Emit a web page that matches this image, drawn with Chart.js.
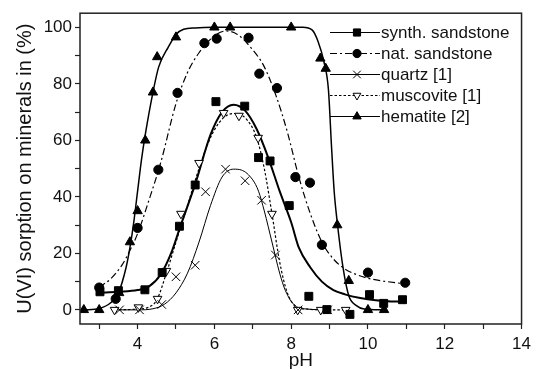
<!DOCTYPE html>
<html>
<head>
<meta charset="utf-8">
<script src="https://cdn.jsdelivr.net/npm/chart.js@4.4.0/dist/chart.umd.min.js"></script>
<style>
  html, body { margin: 0; padding: 0; background: #fff; }
</style>
</head>
<body>
<canvas id="myChart" width="536" height="369"></canvas>
<script>
// measured points
const synthPH = [3.02, 3.5, 4.19, 4.64, 5.09, 5.5, 6.04, 6.79, 7.15, 7.45, 7.95, 8.46, 8.93, 9.53, 10.04, 10.41, 10.9];
const synthU  = [6.4, 6.8, 7.1, 13.2, 29.6, 44.2, 73.7, 72.1, 53.9, 52.7, 36.9, 4.8, 0.1, -1.6, 5.4, 2.3, 3.6];
const natPH = [3.0, 3.43, 4.0, 4.54, 5.04, 5.74, 6.06, 6.89, 7.17, 7.63, 8.11, 8.49, 8.8, 10.0, 10.97];
const natU  = [7.9, 3.9, 29, 49.6, 76.8, 94.4, 96, 96.3, 83.6, 78.5, 47, 45, 23, 13.2, 9.6];
const quartzPH = [3.53, 4.05, 4.63, 5.0, 5.5, 5.77, 6.29, 6.8, 7.23, 7.59, 8.18, 8.95];
const quartzU  = [0, 0, 1.9, 11.7, 15.8, 41.8, 49.8, 45.7, 38.8, 19.4, 0, 0];
const muscPH = [3.4, 4.02, 4.52, 4.75, 5.13, 5.6, 6.24, 6.64, 7.14, 7.5, 8.17, 8.77, 9.42];
const muscU  = [0, 0.9, 3.9, 13.8, 34, 52, 69.7, 68.7, 60.9, 34, 0, 0, 0];
const hemPH = [2.6, 3.0, 3.52, 3.8, 4.0, 4.2, 4.4, 4.51, 5.0, 6.0, 6.41, 8.0, 8.76, 8.9, 9.2, 9.5, 10.0, 10.42];
const hemU  = [0, 0, 6, 24, 35, 60, 77, 89.5, 96.5, 100, 100, 100, 89, 85.4, 30, 10.3, 0, 0];

// fitted curves
const synthFitPH = [3.0, 3.5, 4.0, 4.3, 4.6, 4.9, 5.1, 5.5, 5.9, 6.2, 6.5, 6.8, 7.1, 7.4, 7.7, 8.0, 8.2, 8.5, 8.8, 9.1, 9.4, 9.8, 10.2, 10.6, 10.9];
const synthFitU  = [6.1, 6.4, 7.0, 8.3, 12.5, 21, 29, 44.5, 62, 70, 72.6, 70.5, 64, 54, 42, 31, 22, 15, 10, 7, 5.5, 4.2, 3.4, 3.0, 2.9];
const natFitPH = [3.0, 3.3, 3.6, 3.8, 4.0, 4.3, 4.6, 5.0, 5.3, 5.6, 6.0, 6.3, 6.6, 7.0, 7.3, 7.6, 7.9, 8.2, 8.5, 8.8, 9.1, 9.4, 9.7, 10.0, 10.4, 10.9];
const natFitU  = [8, 11, 16, 21, 27, 39, 52, 73, 84, 91, 97, 98.7, 97.5, 92, 86, 76, 63, 47, 34, 24, 18, 14.5, 12.5, 11.2, 10.2, 9.3];
const quartzFitPH = [3.5, 4.0, 4.4, 4.7, 5.0, 5.3, 5.6, 5.9, 6.2, 6.5, 6.7, 7.0, 7.15, 7.3, 7.5, 7.7, 7.85, 8.1, 8.4, 9.0];
const quartzFitU  = [0, 0, 0.4, 2, 6, 13, 24, 37, 47, 49.8, 49.5, 46, 42, 35, 24, 13, 6.8, 1.5, 0.3, 0];
const muscFitPH = [3.4, 4.0, 4.3, 4.5, 4.75, 5.0, 5.3, 5.6, 5.9, 6.2, 6.5, 6.8, 7.1, 7.3, 7.5, 7.7, 7.9, 8.1, 8.4, 9.0, 9.45];
const muscFitU  = [0, 0.3, 1, 3.5, 13, 24, 37, 50, 61, 67.5, 69.5, 68, 61, 50, 34, 17, 6, 1.5, 0.3, 0, 0];
const hemFitPH = [2.6, 3.0, 3.3, 3.5, 3.7, 3.8, 3.9, 4.0, 4.1, 4.2, 4.4, 4.55, 4.8, 5.0, 5.2, 5.5, 6.0, 8.3, 8.55, 8.7, 8.85, 8.97, 9.05, 9.12, 9.2, 9.35, 9.5, 9.7, 9.9, 10.4];
const hemFitU  = [0, 0.5, 2.5, 6, 15, 22, 31, 42, 53, 62, 77, 86, 93, 97.5, 99.3, 99.8, 100, 100, 99, 95, 88, 78, 58, 42, 31, 15, 5, 1.5, 0.3, 0];

const xTicks = [3, 4, 5, 6, 7, 8, 9, 10, 11, 12, 13, 14];
const yTicks = [0, 10, 20, 30, 40, 50, 60, 70, 80, 90, 100];

const seriesLabels = ['synth. sandstone', 'nat. sandstone', 'quartz [1]', 'muscovite [1]', 'hematite [2]'];

function toXY(xs, ys) {
    return xs.map((x, i) => ({ x: x, y: ys[i] }));
}

const FONT = '"Liberation Sans", Arial, sans-serif';

// marker and line look of every series
const looks = [
    { pointStyle: 'rect', radius: 5.6, rotation: 0, fill: '#000', lw: 2, dash: [] },
    { pointStyle: 'circle', radius: 4.6, rotation: 0, fill: '#000', lw: 1.2, dash: [7, 3, 2, 3] },
    { pointStyle: 'crossRot', radius: 6, rotation: 0, fill: '#000', lw: 1, dash: [] },
    { pointStyle: 'triangle', radius: 5, rotation: 180, fill: '#fff', lw: 1.2, dash: [2.5, 2] },
    { pointStyle: 'triangle', radius: 5.4, rotation: 0, fill: '#000', lw: 1.5, dash: [] }
];

const pointSets = [[synthPH, synthU], [natPH, natU], [quartzPH, quartzU], [muscPH, muscU], [hemPH, hemU]];
const fitSets = [[synthFitPH, synthFitU], [natFitPH, natFitU], [quartzFitPH, quartzFitU], [muscFitPH, muscFitU], [hemFitPH, hemFitU]];

const datasets = [];
pointSets.forEach((s, i) => {
    const lk = looks[i];
    datasets.push({
        label: seriesLabels[i],
        data: toXY(s[0], s[1]),
        showLine: false,
        pointStyle: lk.pointStyle,
        pointRadius: lk.radius,
        pointRotation: lk.rotation,
        pointBackgroundColor: lk.fill,
        pointBorderColor: '#000',
        pointBorderWidth: 1
    });
});
fitSets.forEach((s, i) => {
    const lk = looks[i];
    datasets.push({
        label: seriesLabels[i] + ' fit',
        data: toXY(s[0], s[1]),
        showLine: true,
        pointRadius: 0,
        borderColor: '#000',
        borderWidth: lk.lw,
        borderDash: lk.dash,
        cubicInterpolationMode: 'monotone',
        fill: false
    });
});

// legend with line samples, top right inside the plot
const boxLegend = {
    id: 'boxLegend',
    afterDraw(chart) {
        const ctx = chart.ctx;
        seriesLabels.forEach((label, i) => {
            const lk = looks[i];
            const y = 32.5 + i * 21;
            ctx.save();
            ctx.strokeStyle = '#000';
            ctx.lineWidth = Math.min(lk.lw, 1.2);
            ctx.setLineDash(lk.dash);
            ctx.beginPath();
            ctx.moveTo(330, y);
            ctx.lineTo(380, y);
            ctx.stroke();
            ctx.setLineDash([]);
            ctx.fillStyle = lk.fill;
            ctx.lineWidth = 1;
            Chart.helpers.drawPoint(ctx, {
                pointStyle: lk.pointStyle,
                radius: lk.radius * 0.9,
                rotation: lk.rotation,
                borderWidth: 1
            }, 357, y);
            ctx.fillStyle = '#111';
            ctx.font = '17px ' + FONT;
            ctx.textBaseline = 'middle';
            ctx.textAlign = 'left';
            ctx.fillText(label, 381, y + 1);
            ctx.restore();
        });
    }
};

// frame round the plot
const frame = {
    id: 'frame',
    afterDraw(chart) {
        const a = chart.chartArea;
        const ctx = chart.ctx;
        ctx.save();
        ctx.strokeStyle = '#222';
        ctx.lineWidth = 1.5;
        ctx.strokeRect(a.left, a.top, a.right - a.left, a.bottom - a.top);
        ctx.restore();
    }
};

new Chart('myChart', {
    type: 'scatter',
    data: { datasets: datasets },
    plugins: [frame, boxLegend],
    options: {
        responsive: false,
        animation: false,
        layout: { padding: { top: 10, right: 12, left: 0, bottom: 0 } },
        plugins: {
            legend: { display: false },
            tooltip: { enabled: false }
        },
        scales: {
            x: {
                type: 'linear',
                min: 2.5,
                max: 14,
                afterFit(scale) { scale.height = 45; },
                afterBuildTicks(scale) { scale.ticks = xTicks.map(v => ({ value: v })); },
                border: { display: false },
                grid: { drawOnChartArea: false, drawTicks: true, tickLength: 5, color: '#222', tickWidth: 1.2 },
                ticks: {
                    autoSkip: false,
                    maxRotation: 0,
                    padding: 5,
                    color: '#111',
                    font: { family: FONT, size: 17 },
                    callback: v => (v % 2 === 0 ? v : '')
                },
                title: {
                    display: true,
                    text: 'pH',
                    color: '#111',
                    font: { family: FONT, size: 19, lineHeight: 0.9 },
                    padding: { top: 0, bottom: 0 }
                }
            },
            y: {
                type: 'linear',
                min: -5,
                max: 105,
                afterFit(scale) { scale.width = 80; },
                afterBuildTicks(scale) { scale.ticks = yTicks.map(v => ({ value: v })); },
                border: { display: false },
                grid: { drawOnChartArea: false, drawTicks: true, tickLength: 5, color: '#222', tickWidth: 1.2 },
                ticks: {
                    autoSkip: false,
                    padding: 3,
                    color: '#111',
                    font: { family: FONT, size: 17 },
                    callback: v => (v % 20 === 0 ? v : '')
                },
                title: {
                    display: true,
                    text: 'U(VI) sorption on minerals in (%)',
                    color: '#111',
                    font: { family: FONT, size: 20 },
                    padding: { top: 13, bottom: 0 }
                }
            }
        }
    }
});
</script>
</body>
</html>
